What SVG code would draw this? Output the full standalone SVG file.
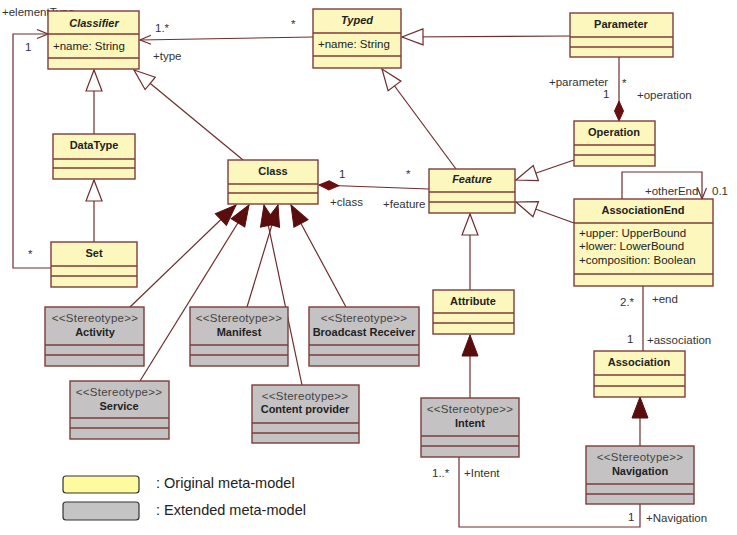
<svg xmlns="http://www.w3.org/2000/svg" width="737" height="535" viewBox="0 0 737 535">
<style>
.y{fill:#fcf7bd;stroke:#7d3c3c;stroke-width:1.4}
.g{fill:#c4c2c2;stroke:#7d3c3c;stroke-width:1.4}
.d{stroke:#7d3c3c;stroke-width:1.4}
.t{font-family:"Liberation Sans",Arial,sans-serif;font-size:11px;font-weight:bold;fill:#222;text-anchor:middle}
.ti{font-style:italic}
.a{font-family:"Liberation Sans",Arial,sans-serif;font-size:11.5px;fill:#222}
.s{font-family:"Liberation Sans",Arial,sans-serif;font-size:11.5px;fill:#444;text-anchor:middle;letter-spacing:0.3px}
.l{font-family:"Liberation Sans",Arial,sans-serif;font-size:11.5px;fill:#333}
.c{fill:none;stroke:#6e2c2c;stroke-width:1.2}
.lg{font-family:"Liberation Sans",Arial,sans-serif;font-size:14.5px;fill:#222}
</style>
<defs>
<marker id="gen" markerUnits="userSpaceOnUse" markerWidth="24" markerHeight="20" refX="22" refY="9" orient="auto"><path d="M1,1 L22,9 L1,17 z" fill="#fff" stroke="#6e2c2c" stroke-width="1.2"/></marker>
<marker id="ext" markerUnits="userSpaceOnUse" markerWidth="24" markerHeight="20" refX="22" refY="9" orient="auto"><path d="M1,1 L22,9 L1,17 z" fill="#5a0d0d" stroke="#5a0d0d" stroke-width="1"/></marker>
<marker id="dia" markerUnits="userSpaceOnUse" markerWidth="22" markerHeight="12" refX="1" refY="5" orient="auto"><path d="M1,5 L11,0.5 L21,5 L11,9.5 z" fill="#6a0f0f" stroke="#6a0f0f" stroke-width="1"/></marker>
<marker id="arr" markerUnits="userSpaceOnUse" markerWidth="14" markerHeight="12" refX="12" refY="5" orient="auto"><path d="M1,0.5 L12,5 L1,9.5" fill="none" stroke="#6e2c2c" stroke-width="1.2"/></marker>
</defs>
<rect width="737" height="535" fill="#fff"/>

<g id="connectors">
<path class="c" d="M313,37 L140,40" marker-end="url(#arr)"/>
<path class="c" d="M51,268 L13,268 L13,34 L48,34" marker-end="url(#arr)"/>
<path class="c" d="M94,134 L94,70" marker-end="url(#gen)"/>
<path class="c" d="M94,242 L94,180" marker-end="url(#gen)"/>
<path class="c" d="M243,160 L134,70" marker-end="url(#gen)"/>
<path class="c" d="M570,36 L402,37" marker-end="url(#gen)"/>
<path class="c" d="M456,169 L382,69" marker-end="url(#gen)"/>
<path class="c" d="M574,160 L516,180" marker-end="url(#gen)"/>
<path class="c" d="M574,223 L516,202" marker-end="url(#gen)"/>
<path class="c" d="M319,185 L429,189" marker-start="url(#dia)"/>
<path class="c" d="M619,121 L619,57" marker-start="url(#dia)"/>
<path class="c" d="M622,199 L622,172 L702,172 L702,199" marker-end="url(#arr)"/>
<path class="c" d="M643,286 L643,351"/>
<path class="c" d="M470,290 L470,214" marker-end="url(#gen)"/>
<path class="c" d="M640,446 L640,397" marker-end="url(#ext)"/>
<path class="c" d="M470,398 L470,335" marker-end="url(#ext)"/>
<path class="c" d="M459,457 L459,527 L640,527 L640,504"/>
<path class="c" d="M130,307 L236,205" marker-end="url(#ext)"/>
<path class="c" d="M140,381 L249,205" marker-end="url(#ext)"/>
<path class="c" d="M302,385 L264,205" marker-end="url(#ext)"/>
<path class="c" d="M247,307 L278,205" marker-end="url(#ext)"/>
<path class="c" d="M346,307 L291,205" marker-end="url(#ext)"/>
<text class="l" x="2" y="16">+elementType</text>
<text class="l" x="25" y="51">1</text>
<text class="l" x="155" y="32">1.*</text>
<text class="l" x="153" y="60">+type</text>
<text class="l" x="291" y="28">*</text>
<text class="l" x="28" y="258">*</text>
<text class="l" x="549" y="86">+parameter</text>
<text class="l" x="603" y="98">1</text>
<text class="l" x="622" y="87">*</text>
<text class="l" x="637" y="99">+operation</text>
<text class="l" x="645" y="195">+otherEnd</text>
<text class="l" x="712" y="195">0.1</text>
<text class="l" x="339" y="178">1</text>
<text class="l" x="406" y="178">*</text>
<text class="l" x="330" y="206">+class</text>
<text class="l" x="383" y="208">+feature</text>
<text class="l" x="620" y="306">2.*</text>
<text class="l" x="652" y="303">+end</text>
<text class="l" x="627" y="343">1</text>
<text class="l" x="647" y="344">+association</text>
<text class="l" x="432" y="477">1..*</text>
<text class="l" x="464" y="477">+Intent</text>
<text class="l" x="628" y="521">1</text>
<text class="l" x="646" y="522">+Navigation</text>
</g>

<g id="classifier">
<rect class="y" x="48" y="11" width="91" height="58"/>
<line class="d" x1="48" y1="34" x2="139" y2="34"/><line class="d" x1="48" y1="58" x2="139" y2="58"/>
<text class="t ti" x="94" y="27">Classifier</text>
<text class="a" x="53" y="50">+name: String</text>
</g>
<g id="typed">
<rect class="y" x="313" y="9" width="88" height="59"/>
<line class="d" x1="313" y1="33" x2="401" y2="33"/><line class="d" x1="313" y1="56" x2="401" y2="56"/>
<text class="t ti" x="357" y="24">Typed</text>
<text class="a" x="318" y="48">+name: String</text>
</g>
<g id="parameter">
<rect class="y" x="570" y="13" width="103" height="44"/>
<line class="d" x1="570" y1="37" x2="673" y2="37"/><line class="d" x1="570" y1="47" x2="673" y2="47"/>
<text class="t" x="621" y="28">Parameter</text>
</g>
<g id="operation">
<rect class="y" x="574" y="121" width="81" height="45"/>
<line class="d" x1="574" y1="145" x2="655" y2="145"/><line class="d" x1="574" y1="155" x2="655" y2="155"/>
<text class="t" x="614" y="136">Operation</text>
</g>
<g id="datatype">
<rect class="y" x="53" y="134" width="82" height="45"/>
<line class="d" x1="53" y1="159" x2="135" y2="159"/><line class="d" x1="53" y1="168" x2="135" y2="168"/>
<text class="t" x="94" y="149">DataType</text>
</g>
<g id="set">
<rect class="y" x="51" y="242" width="86" height="45"/>
<line class="d" x1="51" y1="266" x2="137" y2="266"/><line class="d" x1="51" y1="276" x2="137" y2="276"/>
<text class="t" x="94" y="257">Set</text>
</g>
<g id="class">
<rect class="y" x="228" y="160" width="90" height="44"/>
<line class="d" x1="228" y1="184" x2="318" y2="184"/><line class="d" x1="228" y1="193" x2="318" y2="193"/>
<text class="t" x="273" y="175">Class</text>
</g>
<g id="feature">
<rect class="y" x="429" y="169" width="86" height="44"/>
<line class="d" x1="429" y1="192" x2="515" y2="192"/><line class="d" x1="429" y1="202" x2="515" y2="202"/>
<text class="t ti" x="472" y="183">Feature</text>
</g>
<g id="associationend">
<rect class="y" x="574" y="199" width="139" height="87"/>
<line class="d" x1="574" y1="223" x2="713" y2="223"/><line class="d" x1="574" y1="274" x2="713" y2="274"/>
<text class="t" x="643" y="214">AssociationEnd</text>
<text class="a" x="579" y="237">+upper: UpperBound</text>
<text class="a" x="579" y="250">+lower: LowerBound</text>
<text class="a" x="579" y="264">+composition: Boolean</text>
</g>
<g id="attribute">
<rect class="y" x="433" y="290" width="81" height="44"/>
<line class="d" x1="433" y1="313" x2="514" y2="313"/><line class="d" x1="433" y1="323" x2="514" y2="323"/>
<text class="t" x="473" y="305">Attribute</text>
</g>
<g id="association">
<rect class="y" x="594" y="351" width="91" height="46"/>
<line class="d" x1="594" y1="375" x2="685" y2="375"/><line class="d" x1="594" y1="386" x2="685" y2="386"/>
<text class="t" x="639" y="366">Association</text>
</g>
<g id="activity">
<rect class="g" x="45" y="307" width="99" height="59"/>
<line class="d" x1="45" y1="345" x2="144" y2="345"/><line class="d" x1="45" y1="355" x2="144" y2="355"/>
<text class="s" x="95" y="322">&lt;&lt;Stereotype&gt;&gt;</text>
<text class="t" x="95" y="336">Activity</text>
</g>
<g id="manifest">
<rect class="g" x="190" y="307" width="98" height="59"/>
<line class="d" x1="190" y1="345" x2="288" y2="345"/><line class="d" x1="190" y1="355" x2="288" y2="355"/>
<text class="s" x="239" y="322">&lt;&lt;Stereotype&gt;&gt;</text>
<text class="t" x="239" y="336">Manifest</text>
</g>
<g id="broadcastreceiver">
<rect class="g" x="309" y="307" width="110" height="59"/>
<line class="d" x1="309" y1="345" x2="419" y2="345"/><line class="d" x1="309" y1="355" x2="419" y2="355"/>
<text class="s" x="364" y="322">&lt;&lt;Stereotype&gt;&gt;</text>
<text class="t" x="364" y="336">Broadcast Receiver</text>
</g>
<g id="service">
<rect class="g" x="70" y="381" width="99" height="58"/>
<line class="d" x1="70" y1="418" x2="169" y2="418"/><line class="d" x1="70" y1="428" x2="169" y2="428"/>
<text class="s" x="119" y="396">&lt;&lt;Stereotype&gt;&gt;</text>
<text class="t" x="119" y="410">Service</text>
</g>
<g id="contentprovider">
<rect class="g" x="252" y="385" width="107" height="58"/>
<line class="d" x1="252" y1="423" x2="359" y2="423"/><line class="d" x1="252" y1="433" x2="359" y2="433"/>
<text class="s" x="305" y="400">&lt;&lt;Stereotype&gt;&gt;</text>
<text class="t" x="305" y="413">Content provider</text>
</g>
<g id="intent">
<rect class="g" x="421" y="398" width="98" height="59"/>
<line class="d" x1="421" y1="436" x2="519" y2="436"/><line class="d" x1="421" y1="446" x2="519" y2="446"/>
<text class="s" x="470" y="413">&lt;&lt;Stereotype&gt;&gt;</text>
<text class="t" x="470" y="427">Intent</text>
</g>
<g id="navigation">
<rect class="g" x="586" y="446" width="108" height="58"/>
<line class="d" x1="586" y1="484" x2="694" y2="484"/><line class="d" x1="586" y1="494" x2="694" y2="494"/>
<text class="s" x="640" y="461">&lt;&lt;Stereotype&gt;&gt;</text>
<text class="t" x="640" y="475">Navigation</text>
</g>
<g id="legend">
<rect x="63" y="476" width="76" height="17" rx="3" fill="#fdfb9e" stroke="#333" stroke-width="1.2"/>
<rect x="63" y="502" width="76" height="18" rx="3" fill="#c4c4c4" stroke="#333" stroke-width="1.2"/>
<text class="lg" x="156" y="488">: Original meta-model</text>
<text class="lg" x="156" y="515">: Extended meta-model</text>
</g>
</svg>
